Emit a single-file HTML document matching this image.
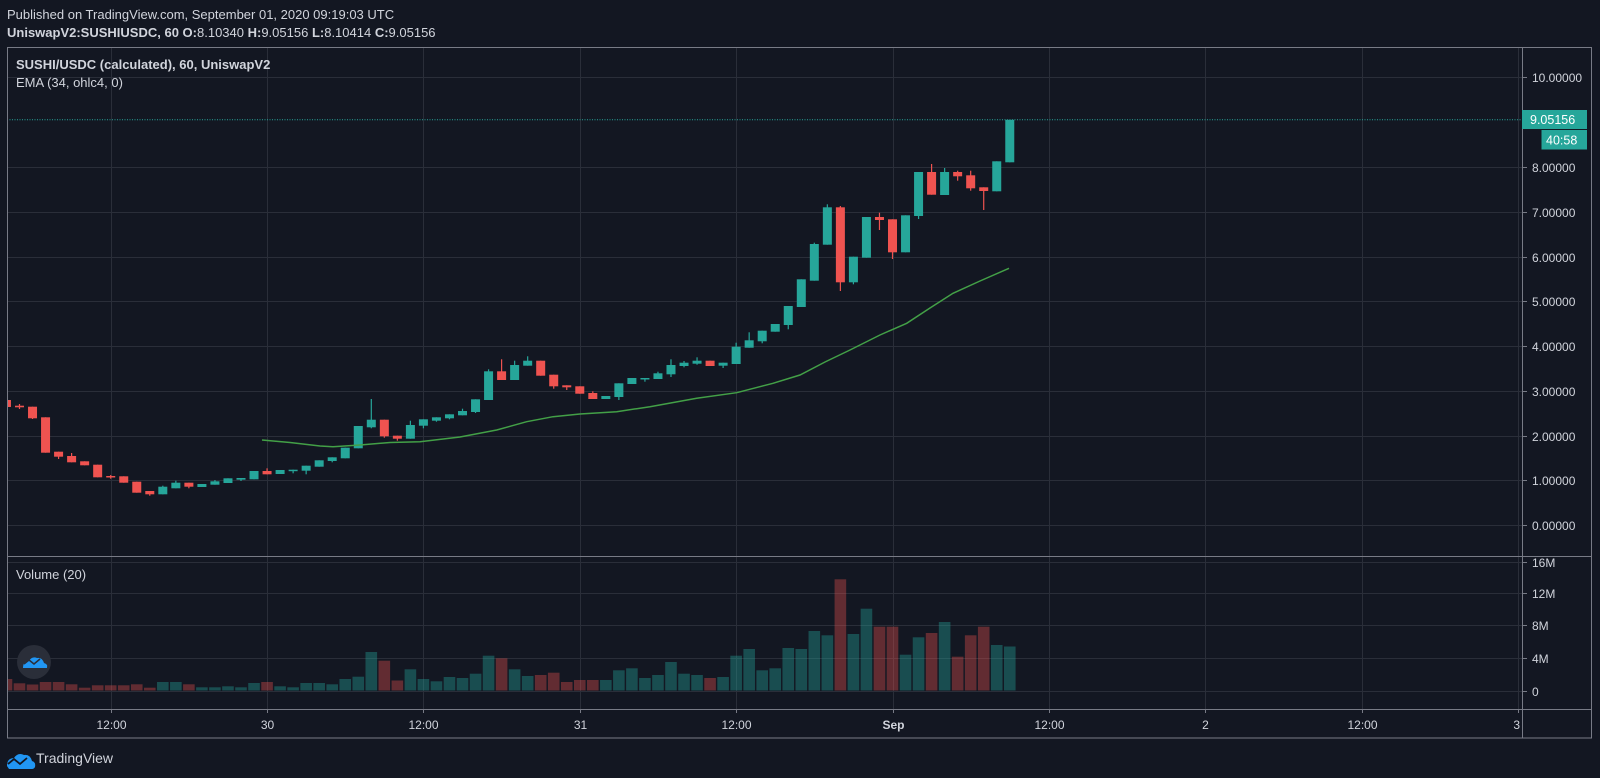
<!DOCTYPE html>
<html><head><meta charset="utf-8"><style>
html,body{margin:0;padding:0;background:#131722;width:1600px;height:778px;overflow:hidden}
svg{display:block}
text{font-family:"Liberation Sans",sans-serif;fill:#d1d4dc}
</style></head><body>
<svg id="s" width="1600" height="778" xmlns="http://www.w3.org/2000/svg">
<rect width="1600" height="778" fill="#131722"/>
<text x="7" y="19" font-size="13">Published on TradingView.com, September 01, 2020 09:19:03 UTC</text>
<text x="7" y="37" font-size="13"><tspan font-weight="bold">UniswapV2:SUSHIUSDC, 60 O:</tspan>8.10340 <tspan font-weight="bold">H:</tspan>9.05156 <tspan font-weight="bold">L:</tspan>8.10414 <tspan font-weight="bold">C:</tspan>9.05156</text>
<g id="grid" stroke="#2a2e39" stroke-width="1"></g>
<g id="vol"></g>
<g id="cndl"></g>
<polyline fill="none" stroke="#43a047" stroke-width="1.5" points="262,440 290,442.5 320,446 333,446.7 360,445 390,442.5 420,441.7 460,437 496.7,430 526.7,421.7 553,416.7 580,414 616.7,411.7 650,406.7 696.7,398.3 736.7,392.7 773,383.3 800,375 825,362 850,350 880,335 906.7,323.3 930,308 953,293.3 980,281 1009,268.3"/>
<line x1="7" y1="119.8" x2="1522" y2="119.8" stroke="#26a69a" stroke-width="1" stroke-dasharray="1,1.5"/>
<text x="16" y="69" font-size="13" font-weight="bold">SUSHI/USDC (calculated), 60, UniswapV2</text>
<text x="16" y="87" font-size="13">EMA (34, ohlc4, 0)</text>
<text x="16" y="579" font-size="13">Volume (20)</text>
<g id="frame" fill="none" stroke="#787b86" stroke-width="1">
<rect x="7.5" y="47.5" width="1584" height="690.5"/>
<line x1="1522.5" y1="47.5" x2="1522.5" y2="738"/>
<line x1="7" y1="556.5" x2="1592" y2="556.5"/>
<line x1="7" y1="709.5" x2="1592" y2="709.5"/>
</g>
<g id="axis" font-size="12"></g>
<rect x="1522" y="110" width="65" height="19" fill="#26a69a"/>
<text x="1530" y="124" font-size="12.5" style="fill:#fff">9.05156</text>
<rect x="1541.5" y="130" width="45.5" height="19.5" fill="#26a69a"/>
<text x="1546" y="144.5" font-size="12.5" style="fill:#fff">40:58</text>
<circle cx="34" cy="662" r="17" fill="#2a2e39"/>
<path d="M23 668 q0-7 6-7 q3-5 8-3 q5-1 7 5 q4 1 3 5 z" fill="#2196f3"/>
<path d="M24 664 l5-4 l5 4 l6-5" fill="none" stroke="#2a2e39" stroke-width="1.5"/>
<path d="M7 766 q0-8 7-8 q4-6 10-3 q6-1 8 6 q4 1 3 6 q-1 2-3 2 h-23 z" fill="#2196f3"/>
<path d="M8 764 l6-5 l6 5 l7-6" fill="none" stroke="#131722" stroke-width="1.8"/>
<text x="36" y="763" font-size="14">TradingView</text>
</svg>
<script>
var NS="http://www.w3.org/2000/svg";
function el(p,t,a,txt){var e=document.createElementNS(NS,t);for(var k in a)e.setAttribute(k,a[k]);if(txt!==undefined)e.textContent=txt;p.appendChild(e);return e;}
var grid=document.getElementById('grid'),axis=document.getElementById('axis');
function X(h){return 110.7+(h-12)*13.03;}
[10,8,7,6,5,4,3,2,1,0].forEach(function(p){var y=Math.round(525.3-44.8*p)+0.5;
 el(grid,'line',{x1:7,y1:y,x2:1522,y2:y});
 el(axis,'line',{x1:1523,y1:y,x2:1527,y2:y,stroke:'#787b86'});
 el(axis,'text',{x:1532,y:y+4.5},p.toFixed(5));});
[[16,561.7,'16M'],[12,592.7,'12M'],[8,625,'8M'],[4,657.7,'4M'],[0,690.5,'0']].forEach(function(v){var y=Math.round(v[1])+0.5;
 el(grid,'line',{x1:7,y1:y,x2:1522,y2:y});
 el(axis,'line',{x1:1523,y1:y,x2:1527,y2:y,stroke:'#787b86'});
 el(axis,'text',{x:1532,y:y+4.5},v[2]);});
[[12,'12:00'],[24,'30'],[36,'12:00'],[48,'31'],[60,'12:00'],[72,'Sep'],[84,'12:00'],[96,'2'],[108,'12:00'],[120,'3']].forEach(function(t){var x=Math.round(X(t[0]))+0.5;
 el(grid,'line',{x1:x,y1:48,x2:x,y2:709});
 el(axis,'line',{x1:x,y1:709,x2:x,y2:713,stroke:'#787b86'});
 var a={x:t[0]==120?1520:x,y:729,'text-anchor':t[0]==120?'end':'middle'};
 if(t[1]=='Sep')a['font-weight']='bold';
 el(axis,'text',a,t[1]);});
var C=[[4,'r',400,407],[5,'r',405.7,407.3,404,409],[6,'r',406.7,418.3,406.7,419],[7,'r',417.3,452.7],[8,'r',451.7,456.7,451.7,459],[9,'r',456,462.3,453],[10,'r',461.3,465.3],[11,'r',464.7,477.3],[12,'r',476,477.3,475,478.7],[13,'r',476.3,482.7],[14,'r',481.7,492.7],[15,'r',491,494.3,491,495.7],[16,'g',486.7,494.3,485.7],[17,'g',482.7,488.3,480.7],[18,'r',482.7,486.7,0,488.3],[19,'g',484,487],[20,'g',481.3,484.7,480],[21,'g',478.3,483],[22,'g',478,479.7,0,481],[23,'g',471,479.3],[24,'r',471,474.3,468.3],[25,'g',470,474],[26,'g',469.7,470.7,0,473.3],[27,'g',465.7,470.7,0,474.3],[28,'g',460.3,466.7],[29,'g',457.3,461,0,462.3],[30,'g',447.7,458.3],[31,'g',426,448.3],[32,'g',419.7,427.3,399,428.3],[33,'r',419.7,436.3,0,437.7],[34,'r',435.7,438.7,0,440.7],[35,'g',425,438.7,420.7],[36,'g',419.3,425.7,0,428.3],[37,'g',417.3,420.7,0,421.7],[38,'g',414.3,418.3,0,419.3],[39,'g',411,415.3,408.7],[40,'g',399.3,412,0,413],[41,'g',371.3,400,369.3],[42,'r',371.3,380,359.3],[43,'g',365,380,360.7],[44,'g',360.7,365.7,356.3],[45,'r',360.7,375.7],[46,'r',374.7,386.3,0,388.7],[47,'r',385.3,387.3,0,390],[48,'r',386.3,393.7],[49,'r',393,399,391.3],[50,'g',396,399],[51,'g',383.3,397,0,400],[52,'g',378,384],[53,'g',378,379,0,381.7],[54,'g',373.3,379,371.7],[55,'g',365,374.3,359.3,377],[56,'g',362.7,366,361,367.3],[57,'g',360.7,363.7,357.3,364.7],[58,'r',360.7,366],[59,'g',362.7,365.7,0,368],[60,'g',346.7,364,342.7],[61,'g',340.3,347.7,332.3],[62,'g',330.7,341.3,0,343.3],[63,'g',324,331.7],[64,'g',306,325,0,329.3],[65,'g',279.3,307],[66,'g',244,280.7,242.7],[67,'g',207.3,244.7,204.3],[68,'r',207.3,282.3,206,291],[69,'g',256.7,282.3,0,284.3],[70,'g',217,257.7],[71,'r',217,220,212.7,230],[72,'r',219.3,252.3,0,259],[73,'g',215.3,252.3],[74,'g',172,216,0,219],[75,'r',172,194.7,164],[76,'g',172,195,168],[77,'r',172,176.3,170.7,180.7],[78,'r',175.3,188.3,170.7,190.7],[79,'r',187.3,191,0,210],[80,'g',161.3,191.3],[81,'g',119.8,162.3]];
var V={4:11.5,5:7.2,6:6,7:8.5,8:8.5,9:6.2,10:2.8,11:5.2,12:5.2,13:5.2,14:6.2,15:2.8,16:8.5,17:8.5,18:6.2,19:3.2,20:3.2,21:4.2,22:3.2,23:7.5,24:8.5,25:4.2,26:3.2,27:7.5,28:7.5,29:6.2,30:11.5,31:13.8,32:38.5,33:29.8,34:10,35:21.2,36:11.5,37:9.2,38:13.5,39:12.5,40:16.8,41:34.8,42:32.2,43:21.2,44:14.5,45:15.5,46:17.8,47:8.5,48:10.5,49:10.5,50:10.5,51:20.2,52:22.2,53:12.5,54:15.5,55:28.5,56:16.8,57:15.5,58:12.5,59:13.5,60:34.8,61:41.5,62:20.2,63:22.2,64:42.5,65:41.5,66:59.5,67:55.2,68:111.2,69:56.5,70:81.8,71:63.8,72:63.8,73:35.8,74:53.2,75:57.5,76:68.5,77:33.8,78:55.2,79:63.8,80:45.5,81:44};
var cg=document.getElementById('cndl'),vg=document.getElementById('vol');
var clip=el(document.getElementById('s'),'clipPath',{id:'cp'});el(clip,'rect',{x:8,y:48,width:1514,height:660});
cg.setAttribute('clip-path','url(#cp)');vg.setAttribute('clip-path','url(#cp)');
C.forEach(function(c){var x=X(c[0]),col=c[1]=='g'?'#26a69a':'#ef5350';
 var wt=c[4]||c[2],wb=c[5]||c[3];
 el(cg,'line',{x1:x,y1:wt,x2:x,y2:wb,stroke:col,'stroke-width':1.2});
 var h=Math.max(c[3]-c[2],1.5);
 el(cg,'rect',{x:x-4.5,y:c[2],width:9,height:h,fill:col});
 var v=V[c[0]]||3;
 el(vg,'rect',{x:x-5.8,y:690.5-v,width:11.6,height:v,fill:c[1]=='g'?'rgba(38,166,154,0.38)':'rgba(239,83,80,0.36)'});
});
</script>
</body></html>
